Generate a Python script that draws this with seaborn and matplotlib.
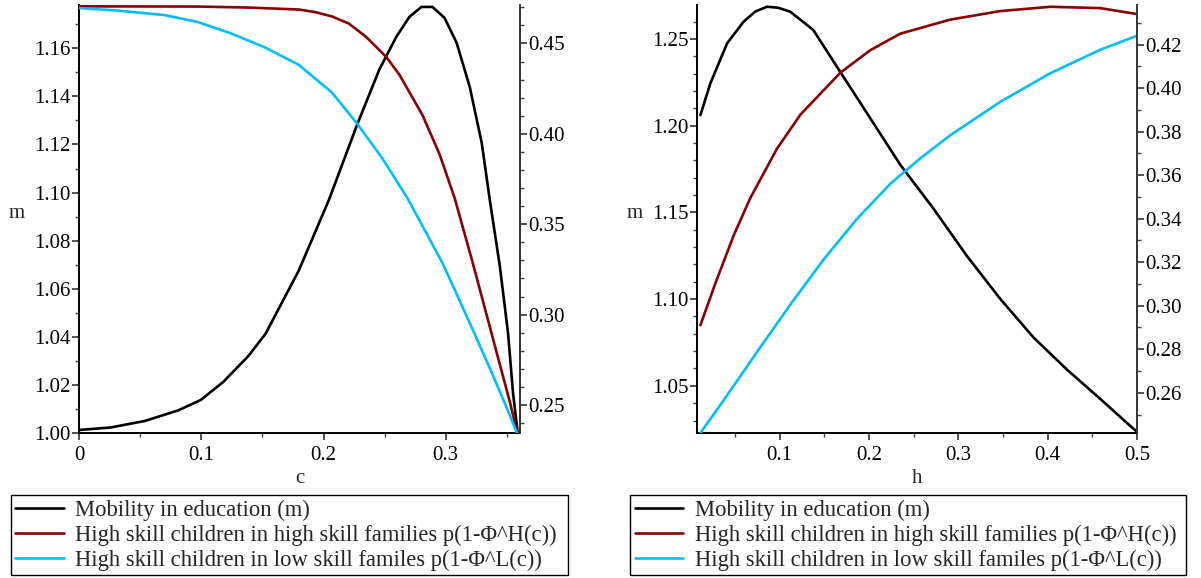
import numpy as np
import pandas as pd
import matplotlib
matplotlib.use("Agg")
import matplotlib.pyplot as plt
import seaborn as sns
from matplotlib.ticker import MultipleLocator, FormatStrFormatter, FuncFormatter
from matplotlib.lines import Line2D

# ---------------- data ----------------
# Left panel: x = c
c_m = [0.0, 0.0258, 0.0537, 0.0809, 0.0996, 0.1179, 0.1385, 0.1525, 0.1797, 0.2044,
       0.2274, 0.2455, 0.2595, 0.2702, 0.2801, 0.2891, 0.2990, 0.3089, 0.3196, 0.3294,
       0.3360, 0.3443, 0.3509, 0.3550, 0.3588]
m_c = [1.00125, 1.00229, 1.00499, 1.00936, 1.01373, 1.02120, 1.03200, 1.04120, 1.06750, 1.09692,
       1.12812, 1.15100, 1.16473, 1.17304, 1.17720, 1.17720, 1.17263, 1.16223, 1.14393, 1.12063,
       1.09692, 1.06905, 1.04160, 1.01664, 1.00012]

c_H = [0.0, 0.0974, 0.1385, 0.1797, 0.1930, 0.2068, 0.2208, 0.2348, 0.2513, 0.2620, 0.2809,
       0.2949, 0.3072, 0.3221, 0.3336, 0.3443, 0.3525, 0.3588]
pH_c = [0.47056, 0.47044, 0.46989, 0.46880, 0.46740, 0.46500, 0.46100, 0.45367, 0.44256, 0.43278,
        0.41044, 0.38872, 0.36461, 0.32850, 0.29933, 0.27222, 0.25139, 0.23367]

c_L = [0.0, 0.0315, 0.0700, 0.0974, 0.1245, 0.1517, 0.1797, 0.2068, 0.2274, 0.2480, 0.2685,
       0.2973, 0.3097, 0.3221, 0.3361, 0.3467, 0.3588]
pL_c = [0.46961, 0.46822, 0.46572, 0.46183, 0.45556, 0.44794, 0.43822, 0.42294, 0.40572, 0.38656,
        0.36461, 0.32850, 0.31017, 0.29156, 0.27017, 0.25350, 0.23367]

# Right panel: x = h
h_m = [0.0113, 0.0225, 0.0412, 0.0597, 0.0728, 0.0859, 0.0985, 0.1120, 0.1377, 0.1677,
       0.1978, 0.2350, 0.2720, 0.3096, 0.3470, 0.3838, 0.4215, 0.4590, 0.5000]
m_h = [1.2061, 1.2245, 1.2475, 1.2600, 1.26585, 1.2686, 1.26801, 1.2657, 1.2552, 1.2311,
       1.2072, 1.1775, 1.1523, 1.1249, 1.1001, 1.0781, 1.0594, 1.0424, 1.0234]

h_H = [0.0113, 0.0281, 0.0485, 0.0672, 0.0971, 0.1232, 0.1679, 0.2015, 0.2350, 0.2910,
       0.3469, 0.4028, 0.4587, 0.5000]
pH_h = [0.29103, 0.31034, 0.33223, 0.34952, 0.37223, 0.38777, 0.40708, 0.41743, 0.42501, 0.43149,
        0.43540, 0.43738, 0.43678, 0.43402]

h_L = [0.0113, 0.0374, 0.0747, 0.1120, 0.1492, 0.1866, 0.2238, 0.2574, 0.2909, 0.3469,
       0.4028, 0.4587, 0.5000]
pL_h = [0.24152, 0.25655, 0.27876, 0.30055, 0.32124, 0.33991, 0.35600, 0.36772, 0.37830, 0.39370,
        0.40680, 0.41761, 0.42405]

labels = ["Mobility in education (m)",
          "High skill children in high skill families p(1-\u03a6^H(c))",
          "High skill children in low skill familes p(1-\u03a6^L(c))"]
colors = ["#000000", "#8B0000", "#00BFFF"]

# ---------------- style ----------------
sns.set_style("ticks")
plt.rcParams["font.family"] = ["Liberation Serif", "DejaVu Serif"]

fig = plt.figure(figsize=(12.01, 5.78), dpi=100)

LW = 1.9
TICK_FS = 15


def xfmt_c(v, pos):
    if abs(v) < 1e-9:
        return "0"
    return "%.1f" % v


def style_axes(ax, ax2, xmaj, xmin_, ymaj, ymin_, y2maj, y2min):
    for a in (ax, ax2):
        for s in a.spines.values():
            s.set_visible(False)
    ax.spines["left"].set_visible(True)
    ax.spines["bottom"].set_visible(True)
    ax2.spines["right"].set_visible(True)
    for s in (ax.spines["left"], ax.spines["bottom"]):
        s.set_linewidth(1.4)
        s.set_color("black")
    ax2.spines["right"].set_linewidth(1.4)
    ax2.spines["right"].set_color("#333333")
    ax.xaxis.set_major_locator(MultipleLocator(xmaj))
    ax.xaxis.set_minor_locator(MultipleLocator(xmin_))
    ax.yaxis.set_major_locator(MultipleLocator(ymaj))
    ax.yaxis.set_minor_locator(MultipleLocator(ymin_))
    ax2.yaxis.set_major_locator(MultipleLocator(y2maj))
    ax2.yaxis.set_minor_locator(MultipleLocator(y2min))
    ax.yaxis.set_major_formatter(FormatStrFormatter("%.2f"))
    ax2.yaxis.set_major_formatter(FormatStrFormatter("%.2f"))
    ax.xaxis.set_major_formatter(FuncFormatter(xfmt_c))
    for a in (ax, ax2):
        a.tick_params(which="major", length=5, width=1.1, labelsize=TICK_FS, colors="#222222",
                      labelcolor="black", pad=1)
        a.tick_params(which="minor", length=3, width=1.0, colors="#444444")
    ax.tick_params(axis="x", which="major", pad=4)
    ax.set_facecolor("none")
    ax2.set_facecolor("none")


def panel(rect, xs, ys, xlim, ylim, y2lim, xlabel, ticks):
    ax = fig.add_axes(rect)
    ax2 = ax.twinx()
    axes_for = [ax, ax2, ax2]
    for i in range(3):
        df = pd.DataFrame({"x": xs[i], "y": ys[i]})
        sns.lineplot(data=df, x="x", y="y", ax=axes_for[i], color=colors[i], lw=LW,
                     sort=False, estimator=None)
    ax.set_xlim(*xlim)
    ax.set_ylim(*ylim)
    ax2.set_ylim(*y2lim)
    style_axes(ax, ax2, *ticks)
    ax.set_xlabel(xlabel, fontsize=TICK_FS)
    ax.set_ylabel("m", fontsize=TICK_FS, rotation=0)
    ax2.set_ylabel("")
    ax.xaxis.set_label_coords(0.5, -0.085)
    ax.yaxis.set_label_coords(-0.142, 0.49)
    return ax, ax2


# ---------- left panel ----------
panel([79/1201, 1-433/578, 441/1201, 428/578],
      [c_m, c_H, c_L], [m_c, pH_c, pL_c],
      (0, 0.3607), (1.0, 1.178), (0.2345, 0.4713), "c",
      (0.1, 0.05, 0.02, 0.01, 0.05, 0.01))

# ---------- right panel ----------
panel([697/1201, 1-433/578, 440/1201, 428/578],
      [h_m, h_H, h_L], [m_h, pH_h, pL_h],
      (0.0075, 0.5), (1.0228, 1.2696), (0.2415, 0.4382), "h",
      (0.1, 0.05, 0.05, 0.01, 0.02, 0.01))

# ---------- legends ----------
handles = [Line2D([0], [0], color=c, lw=LW) for c in colors]
for x0, x1 in ((10.8, 568), (630, 1186)):
    leg = fig.legend(handles, labels, loc="upper left",
                     bbox_to_anchor=(x0/1201, 1-495/578, (x1-x0)/1201, 0.0),
                     mode="expand", borderaxespad=0, fontsize=16.3, frameon=True,
                     fancybox=False, handlelength=2.15, handletextpad=0.5,
                     labelspacing=0.17, borderpad=0.2, handleheight=0.6)
    fr = leg.get_frame()
    fr.set_edgecolor("black")
    fr.set_linewidth(1.0)
    fr.set_alpha(1)

fig.savefig("out.png", dpi=100)
